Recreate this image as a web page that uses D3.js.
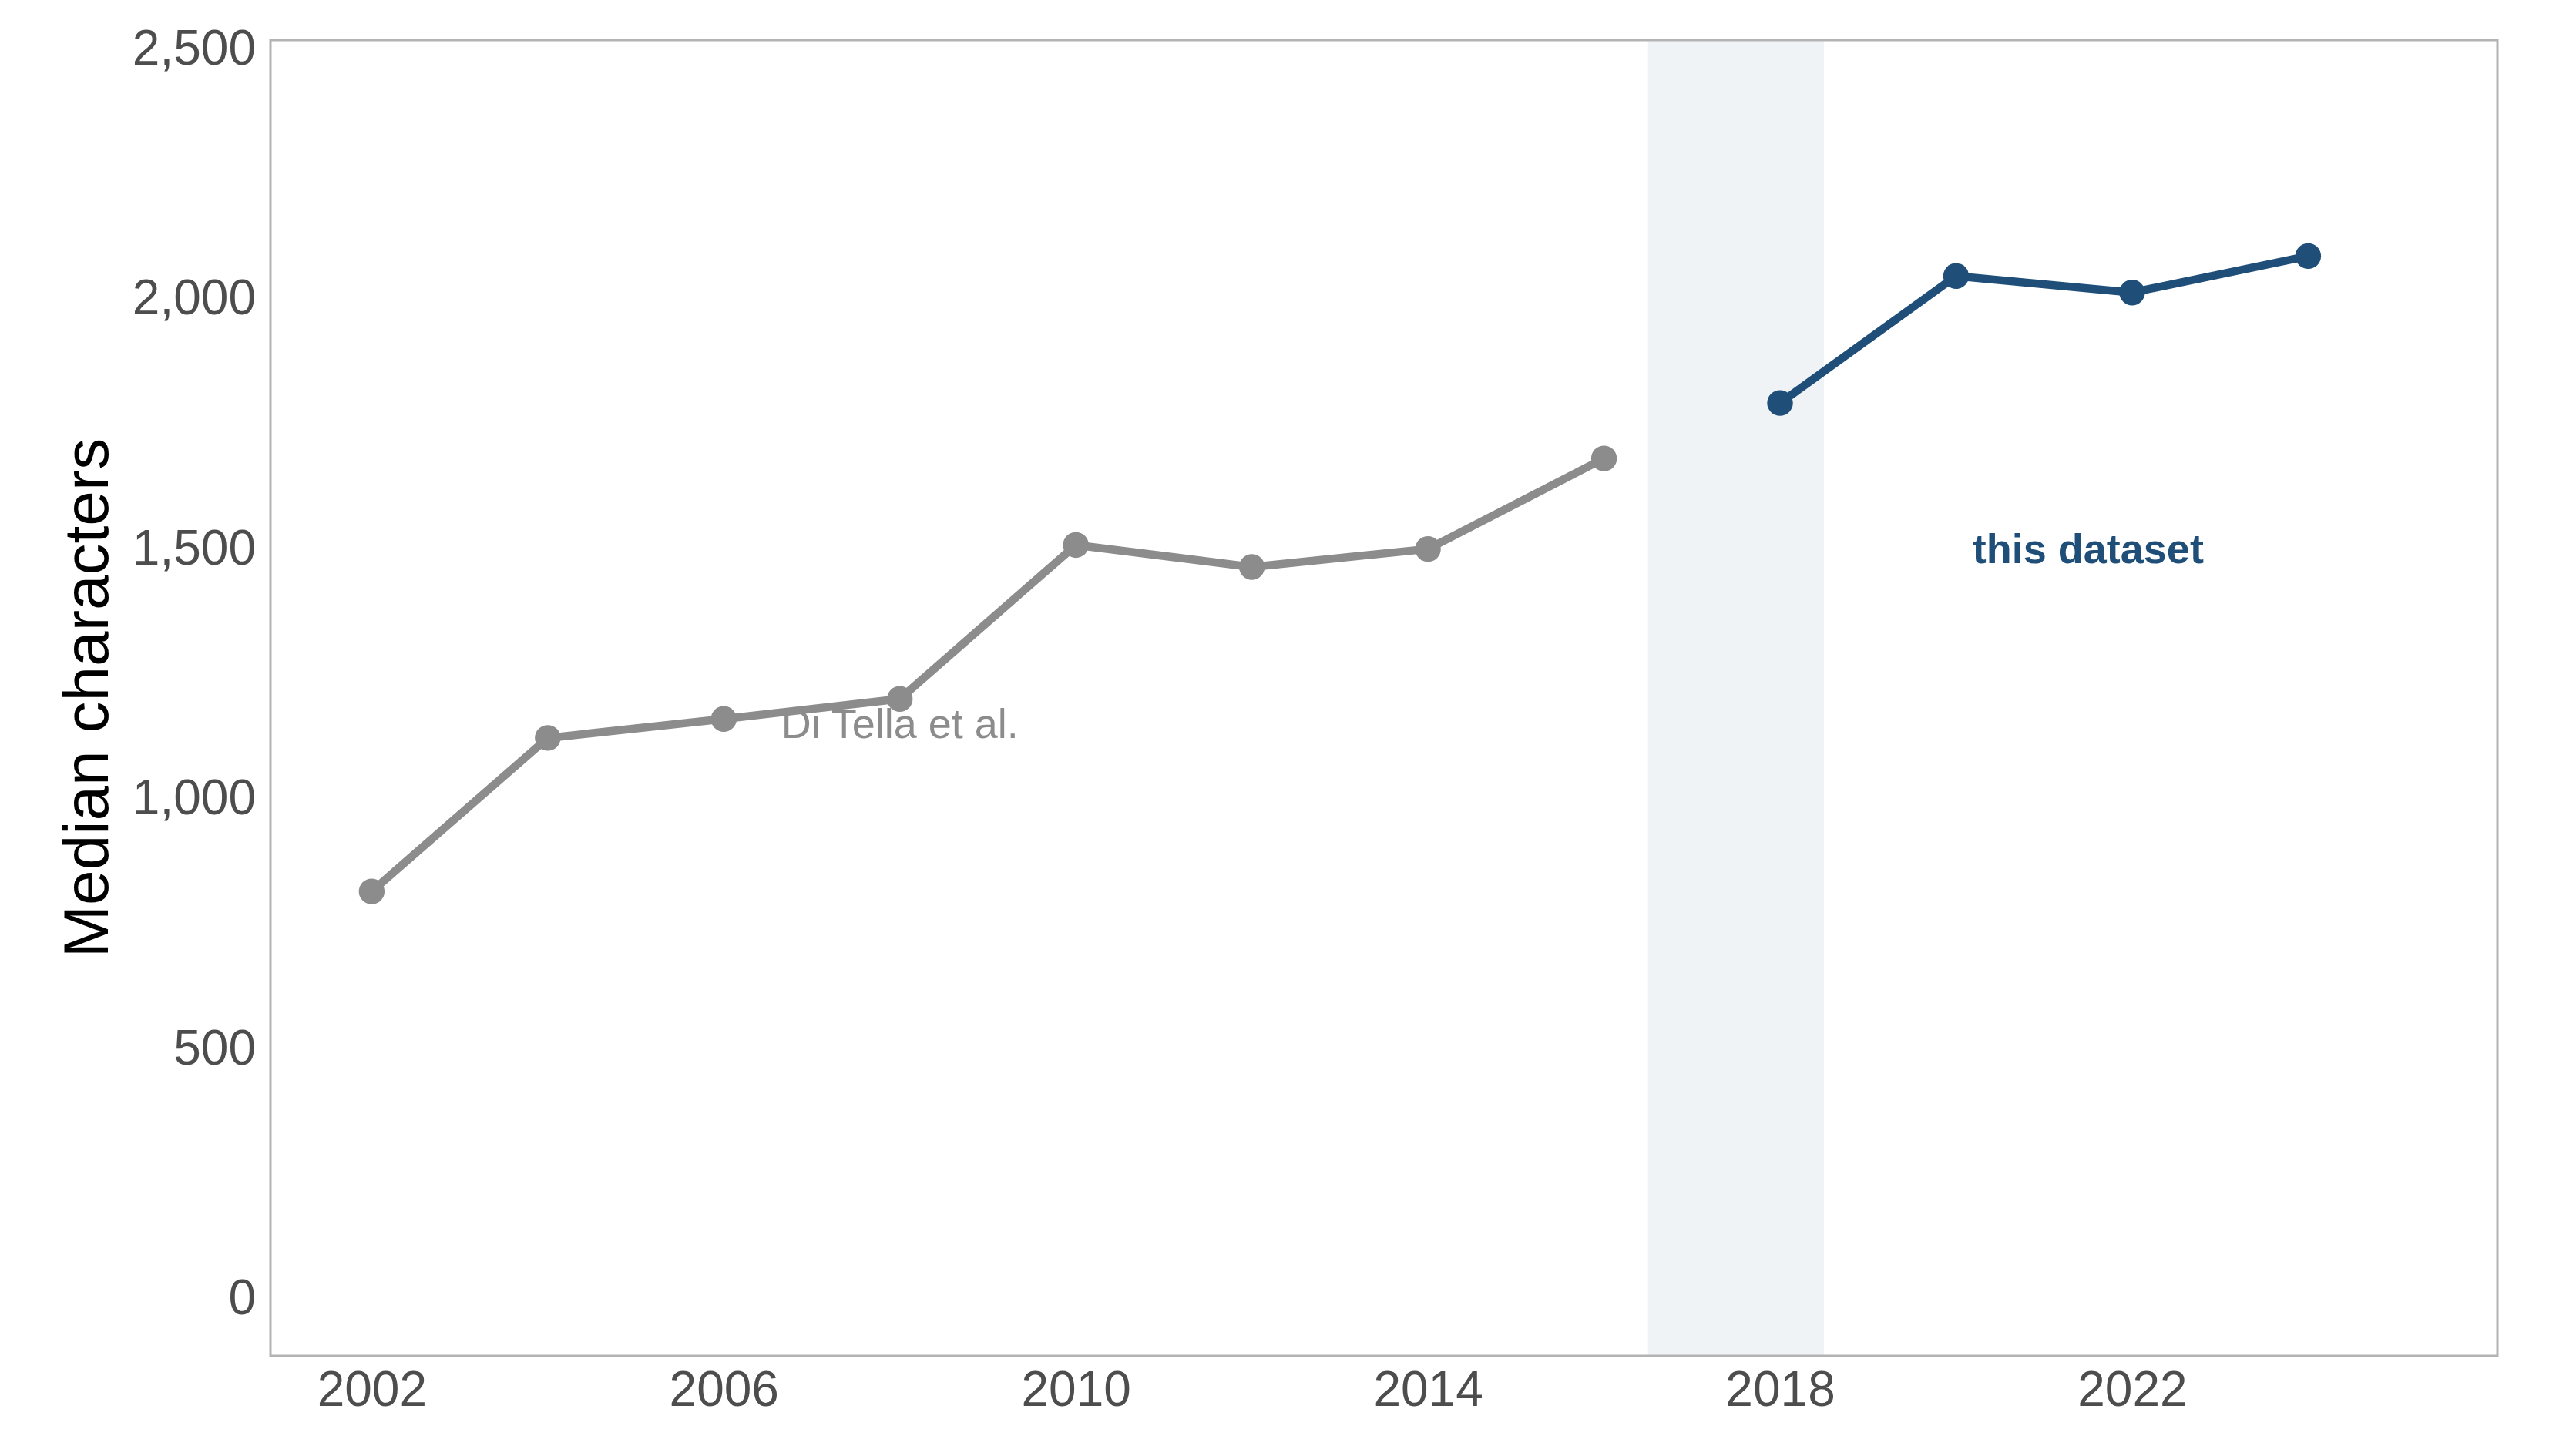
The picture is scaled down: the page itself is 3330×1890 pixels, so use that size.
<!DOCTYPE html>
<html>
<head>
<meta charset="utf-8">
<script src="https://cdn.jsdelivr.net/npm/d3@7"></script>
<style>
  body { margin: 0; background: #fff; }
  svg text { font-family: "Liberation Sans", Arial, Helvetica, sans-serif; }
</style>
</head>
<body>
<svg id="chart" width="3330" height="1890"></svg>
<script>
// data
const priorYears = [2002, 2004, 2006, 2008, 2010, 2012, 2014, 2016];
const priorValues = [814, 1121, 1159, 1199, 1507, 1463, 1499, 1680];
const ourYears = [2018, 2020, 2022, 2024];
const ourValues = [1791, 2045, 2012, 2085];
const xTicks = [2002, 2006, 2010, 2014, 2018, 2022];
const yTicks = [0, 500, 1000, 1500, 2000, 2500];
const gapBand = [2016.5, 2018.5];

const grey = '#8c8c8c';
const blue = '#1f4e79';

const svg = d3.select('#chart');
const padLeft = 351, padTop = 52, w = 2890, h = 1708;

const x = d3.scaleLinear().domain([2000.85, 2026.15]).range([0, w]);
const y = d3.scaleLinear().domain([-115, 2517]).range([h, 0]);

const g = svg.append('g')
        .attr('transform', `translate(${padLeft}, ${padTop})`);

// shaded band between the two sources
g.append('rect')
        .attr('x', x(gapBand[0]))
        .attr('y', 0)
        .attr('width', x(gapBand[1]) - x(gapBand[0]))
        .attr('height', h)
        .attr('fill', '#eff3f6');

const yAxis = g.append('g')
        .call(d3.axisLeft(y).tickValues(yTicks).tickFormat(d3.format(',')).tickSize(0).tickPadding(19));
const xAxis = g.append('g')
        .attr('transform', `translate(0, ${h})`)
        .call(d3.axisBottom(x).tickValues(xTicks).tickFormat(d3.format('d')).tickSize(0).tickPadding(20));

[yAxis, xAxis].forEach(a => {
        a.select('.domain').remove();
        a.selectAll('text')
                .attr('fill', '#4d4d4d')
                .style('font-size', '64px');
});

// panel border
g.append('rect')
        .attr('x', 0).attr('y', 0)
        .attr('width', w).attr('height', h)
        .attr('fill', 'none')
        .attr('stroke', '#b3b3b3')
        .attr('stroke-width', 3);

const line = d3.line()
        .x(d => x(d[0]))
        .y(d => y(d[1]));

function series(years, values, colour) {
        const pts = years.map((yr, i) => [yr, values[i]]);
        g.append('path')
                .datum(pts)
                .attr('d', line)
                .attr('fill', 'none')
                .attr('stroke', colour)
                .attr('stroke-width', 10.5)
                .attr('stroke-linejoin', 'round');
        g.selectAll(null)
                .data(pts)
                .enter()
                .append('circle')
                .attr('cx', d => x(d[0]))
                .attr('cy', d => y(d[1]))
                .attr('r', 16.7)
                .attr('fill', colour);
}

series(priorYears, priorValues, grey);
series(ourYears, ourValues, blue);

// labels
g.append('text')
        .attr('x', x(2008))
        .attr('y', y(1150))
        .attr('dy', '0.35em')
        .attr('text-anchor', 'middle')
        .attr('fill', grey)
        .style('font-size', '54px')
        .text('Di Tella et al.');

g.append('text')
        .attr('x', x(2021.5))
        .attr('y', y(1500))
        .attr('dy', '0.35em')
        .attr('text-anchor', 'middle')
        .attr('fill', blue)
        .style('font-size', '54px')
        .style('font-weight', 'bold')
        .text('this dataset');

// y axis title
svg.append('text')
        .attr('transform', `translate(140, ${padTop + h / 2}) rotate(-90)`)
        .attr('text-anchor', 'middle')
        .attr('fill', '#000')
        .style('font-size', '82px')
        .text('Median characters');
</script>
</body>
</html>
